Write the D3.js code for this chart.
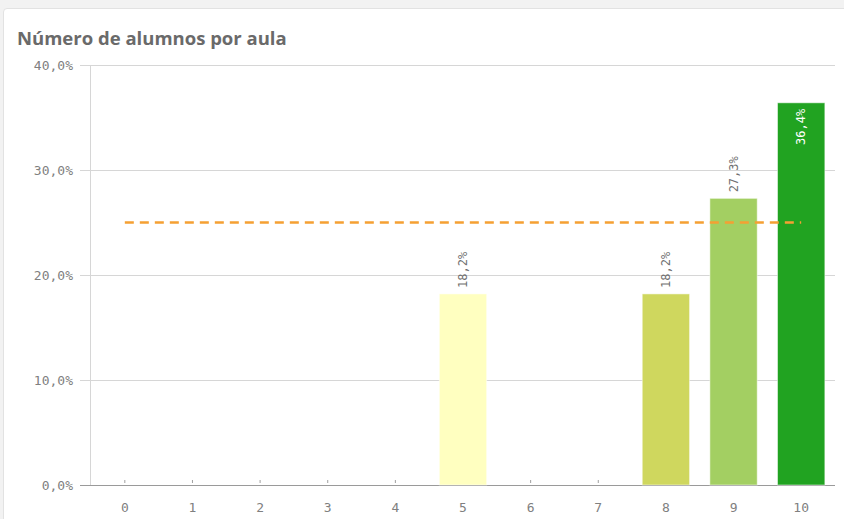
<!DOCTYPE html>
<meta charset="utf-8">
<script src="https://d3js.org/d3.v7.min.js"></script>
<style>
  body { margin: 0; background: #f2f2f2; }
  #card { position: absolute; left: 3px; top: 8px; width: 900px; height: 560px;
          background: #fff; border: 1px solid #e2e2e2; border-radius: 4px; }
</style>
<body>
<div id="card"></div>
<div id="my_dataviz" style="position:absolute;left:0;top:0"></div>

<script>
// data
var categories = ["0", "1", "2", "3", "4", "5", "6", "7", "8", "9", "10"]
var values = [0, 0, 0, 0, 0, 18.2, 0, 0, 18.2, 27.3, 36.4]
var barColors = ["#ffffc0", "#ffffc0", "#ffffc0", "#ffffc0", "#ffffc0", "#ffffc0",
                 "#ffffc0", "#ffffc0", "#cfd75e", "#a3cf62", "#21a321"]
var yTicks = [0, 10, 20, 30, 40]
var refValue = 25

var width = 844,
    height = 519

var svg = d3.select("#my_dataviz")
  .append("svg")
    .attr("width", width)
    .attr("height", height)

svg.append("text")
  .attr("x", 17)
  .attr("y", 45)
  .style("font-family", "'Open Sans', sans-serif")
  .style("font-size", "18.5px")
  .style("font-weight", "bold")
  .style("fill", "#6a6a6a")
  .text("Número de alumnos por aula")

var x = d3.scaleBand()
  .domain(categories)
  .range([91, 835])
  .paddingInner(0.3)
  .paddingOuter(0.15)

var y = d3.scaleLinear()
  .domain([0, 40])
  .range([485, 65])

var mono = "'DejaVu Sans Mono', monospace"

// gridlines
svg.selectAll(".grid")
  .data(yTicks)
  .enter()
  .append("line")
    .attr("x1", 80)
    .attr("x2", 835)
    .attr("y1", function(d){ return y(d) + 0.5 })
    .attr("y2", function(d){ return y(d) + 0.5 })
    .attr("stroke", function(d){ return d == 0 ? "#9a9a9a" : "#d6d6d6" })
    .attr("stroke-width", 1)

// y axis line
svg.append("line")
  .attr("x1", 90.5).attr("x2", 90.5)
  .attr("y1", 65).attr("y2", 485)
  .attr("stroke", "#d6d6d6")

svg.selectAll(".ylab")
  .data(yTicks)
  .enter()
  .append("text")
    .attr("x", 73)
    .attr("y", function(d){ return y(d) + 4.5 })
    .attr("text-anchor", "end")
    .style("font-family", mono)
    .style("font-size", "13px")
    .style("fill", "#808080")
    .text(function(d){ return d3.format(".1f")(d).replace(".", ",") + "%" })

// x labels
svg.selectAll(".xlab")
  .data(categories)
  .enter()
  .append("text")
    .attr("x", function(d){ return x(d) + x.bandwidth() / 2 })
    .attr("y", 512)
    .attr("text-anchor", "middle")
    .style("font-family", mono)
    .style("font-size", "13px")
    .style("fill", "#808080")
    .text(function(d){ return d })

var data = categories.map(function(c, i){ return {key: c, value: values[i], color: barColors[i]} })

// small markers for empty categories
svg.selectAll(".zero")
  .data(data.filter(function(d){ return d.value == 0 }))
  .enter()
  .append("rect")
    .attr("x", function(d){ return x(d.key) + x.bandwidth() / 2 - 0.5 })
    .attr("y", 480)
    .attr("width", 1)
    .attr("height", 3)
    .attr("fill", "#a0a0a0")

// bars
svg.selectAll(".bar")
  .data(data.filter(function(d){ return d.value > 0 }))
  .enter()
  .append("rect")
    .attr("x", function(d){ return x(d.key) })
    .attr("y", function(d){ return y(d.value) })
    .attr("width", x.bandwidth())
    .attr("height", function(d){ return y(0) - y(d.value) })
    .attr("fill", function(d){ return d.color })
    .attr("stroke", "rgba(255,255,255,0.5)")
    .attr("stroke-width", 1)

// value labels
svg.selectAll(".vlab")
  .data(data.filter(function(d){ return d.value > 0 }))
  .enter()
  .append("text")
    .attr("transform", function(d){
      var cx = x(d.key) + x.bandwidth() / 2 + 4
      var inside = d.value > 30
      var yy = inside ? y(d.value) + 6 : y(d.value) - 6
      return "translate(" + cx + "," + yy + ") rotate(-90)"
    })
    .attr("text-anchor", function(d){ return d.value > 30 ? "end" : "start" })
    .style("font-family", mono)
    .style("font-size", "12px")
    .style("fill", function(d){ return d.value > 30 ? "#ffffff" : "#707070" })
    .text(function(d){ return d3.format(".1f")(d.value).replace(".", ",") + "%" })

// reference line
svg.append("line")
  .attr("x1", x("0") + x.bandwidth() / 2)
  .attr("x2", x("10") + x.bandwidth() / 2)
  .attr("y1", y(refValue))
  .attr("y2", y(refValue))
  .attr("stroke", "#f5a033")
  .attr("stroke-width", 2.5)
  .attr("stroke-dasharray", "9,6")
</script>
</body>
